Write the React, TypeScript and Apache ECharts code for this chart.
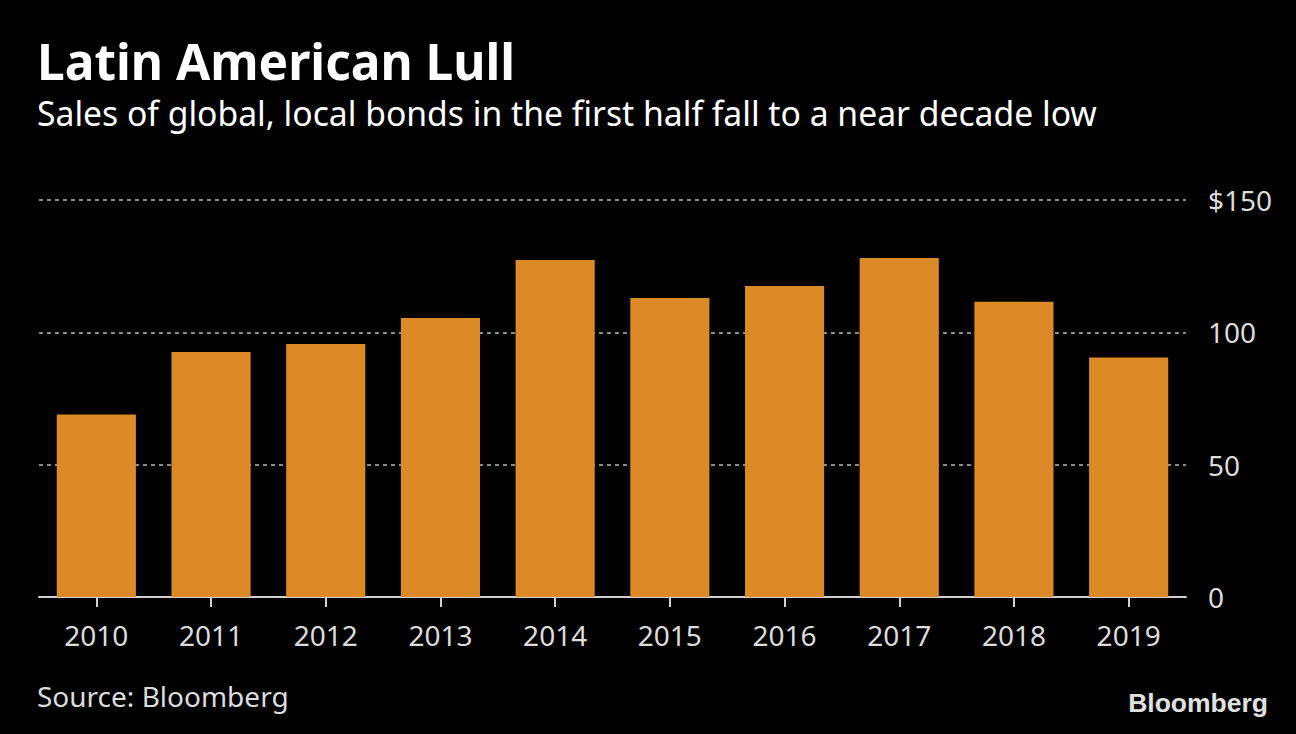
import React, { useEffect, useRef } from "react";
import * as echarts from "echarts";

const years = ["2010", "2011", "2012", "2013", "2014", "2015", "2016", "2017", "2018", "2019"];
const sales = [69, 92.6, 95.6, 105.4, 127.3, 113, 117.5, 128.1, 111.6, 90.5];
const yTicks = [0, 50, 100, 150];

const FONT = "'Noto Sans', sans-serif";

export default function App() {
  const ref = useRef<HTMLDivElement>(null);
  useEffect(() => {
    if (!ref.current) return;
    const chart = echarts.init(ref.current, null, { renderer: "svg" });
    chart.setOption({
      animation: false,
      backgroundColor: "#000000",
      grid: { left: 39, right: 110, top: 200, bottom: 137, containLabel: false },
      xAxis: {
        type: "category",
        data: years,
        axisLine: { show: true, lineStyle: { color: "#d0d0d0", width: 2 } },
        axisTick: { show: true, alignWithLabel: true, length: 10, lineStyle: { color: "#d0d0d0", width: 2 } },
        axisLabel: { color: "#dcdcdc", fontSize: 28, fontFamily: FONT, margin: 24 },
      },
      yAxis: {
        type: "value",
        position: "right",
        min: yTicks[0],
        max: yTicks[yTicks.length - 1],
        interval: 50,
        axisLine: { show: false },
        axisTick: { show: false },
        splitLine: { show: true, lineStyle: { color: "#8a8a8a", width: 2, type: [4, 4] } },
        axisLabel: {
          color: "#dcdcdc",
          fontSize: 28,
          fontFamily: FONT,
          margin: 22,
          formatter: (v: number) => (v === 150 ? "$150" : String(v)),
        },
      },
      series: [
        {
          type: "bar",
          data: sales,
          barWidth: "69%",
          itemStyle: { color: "#DB8A26" },
        },
      ],
      graphic: [
        {
          type: "text",
          left: 37,
          top: 36,
          style: { text: "Latin American Lull", fill: "#ffffff", font: `bold 49.6px ${FONT}` },
        },
        {
          type: "text",
          left: 37,
          top: 96,
          style: {
            text: "Sales of global, local bonds in the first half fall to a near decade low",
            fill: "#ffffff",
            font: `33.7px ${FONT}`,
          },
        },
        {
          type: "text",
          left: 37,
          top: 682,
          style: { text: "Source: Bloomberg", fill: "#dcdcdc", font: `28px ${FONT}` },
        },
        {
          type: "text",
          right: 28,
          top: 689,
          style: { text: "Bloomberg", fill: "#e0e0e0", font: `bold 26.5px 'Liberation Sans', Arial, sans-serif` },
        },
      ],
    });
    return () => chart.dispose();
  }, []);
  return (
    <div
      ref={ref}
      style={{ width: 1296, height: 734, position: "absolute", left: 0, top: 0, background: "#000" }}
    />
  );
}
